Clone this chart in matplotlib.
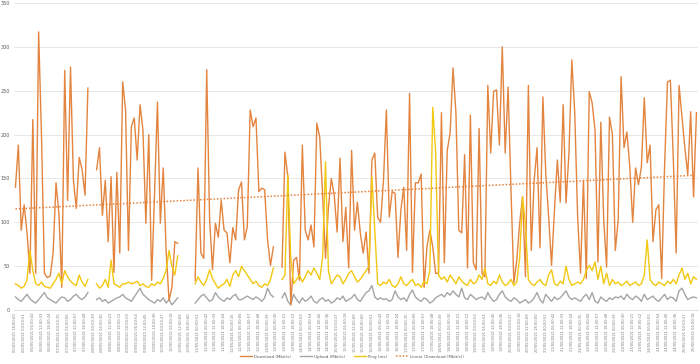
import numpy as np
import pandas as pd
import matplotlib
matplotlib.use("Agg")
import matplotlib.pyplot as plt
from matplotlib.lines import Line2D

nan = np.nan

download = [
    140,188,91,120,88,42,217,42,317,197,42,37,39,65,145,110,26,273,125,277,148,116,174,160,131,253,nan,nan,160,185,108,148,78,152,43,157,65,260,
    228,68,209,219,171,234,205,99,200,34,133,237,99,162,68,11,26,78,76,nan,nan,nan,nan,nan,34,162,65,59,274,103,46,99,83,125,91,88,54,94,80,137,
    146,80,95,228,209,219,135,139,137,80,51,72,nan,nan,49,180,152,6,57,60,34,188,91,80,97,72,213,197,131,59,117,150,131,89,173,78,117,48,182,91,123,88,65,89,42,
    171,179,106,100,148,228,106,135,133,60,114,140,68,247,43,145,145,155,26,72,91,72,42,42,225,54,182,202,276,225,91,88,177,48,222,54,46,207,
    42,38,256,179,249,251,188,300,179,254,137,31,57,99,129,38,256,68,148,185,71,243,156,106,51,114,171,123,234,122,179,285,225,106,42,148,36,249,
    236,205,55,214,103,49,220,200,68,103,266,185,203,163,100,162,143,163,242,168,188,78,114,120,36,163,260,262,174,65,256,220,185,154,226,129,225,
]

ping = [
    30,28,25,27,35,68,45,30,28,32,27,26,25,30,35,42,30,45,38,33,30,28,40,32,27,35,nan,nan,30,25,28,35,26,57,30,28,26,30,
    30,32,30,31,33,28,30,27,26,30,28,32,30,36,45,68,50,40,62,nan,nan,nan,nan,nan,30,38,32,28,35,46,36,30,25,28,30,35,27,40,45,38,
    50,45,40,35,30,33,28,26,30,28,35,48,nan,nan,35,40,154,60,30,35,40,32,38,45,40,48,42,35,60,169,45,30,35,40,38,30,35,42,45,38,32,35,40,45,50,
    152,90,30,28,32,30,35,28,26,30,38,30,28,32,35,28,30,26,33,30,45,231,180,40,35,38,32,40,35,30,38,33,30,28,35,30,32,40,
    35,48,30,28,33,30,40,32,28,30,35,28,32,60,129,97,35,30,28,32,35,30,28,40,46,30,28,33,30,50,35,28,30,32,30,35,45,51,
    45,55,35,50,30,42,28,35,30,32,28,30,33,28,30,32,28,30,40,80,35,30,28,32,30,28,33,30,35,30,40,48,35,42,30,38,35,
]

upload = [
    15,12,10,14,18,13,10,8,12,16,20,14,12,10,8,12,15,14,10,12,16,18,14,12,15,20,nan,nan,12,14,10,12,8,10,12,14,15,18,
    14,12,10,15,20,25,18,15,12,10,8,12,10,14,8,12,6,10,14,nan,nan,nan,nan,nan,8,12,16,18,14,10,12,20,15,12,10,14,12,16,18,12,
    12,14,16,14,12,15,13,10,14,25,18,15,nan,nan,14,20,10,6,18,12,8,14,10,12,16,10,8,12,14,10,12,8,10,14,12,16,10,12,14,18,12,10,15,20,22,
    28,15,12,14,12,13,10,12,22,15,12,14,10,18,23,15,12,10,14,12,8,10,14,16,18,15,20,17,22,18,15,25,14,12,18,15,12,14,
    15,12,20,14,10,12,18,22,15,12,10,14,12,8,10,12,8,10,14,20,12,8,18,14,10,15,12,14,18,22,15,12,14,12,10,15,18,12,
    20,10,8,15,12,10,14,12,15,14,16,12,18,14,12,16,14,10,18,12,14,16,12,10,14,18,12,15,14,10,22,25,18,12,14,15,14,
]

series_names = ["Download (Mbit/s)", "Upload (Mbit/s)", "Ping (ms)", "Linear (Download (Mbit/s))"]
y_ticks = [0, 50, 100, 150, 200, 250, 300, 350]

n = len(download)
times = pd.date_range("2021-05-05 18:00:00", periods=n, freq="2h") + pd.to_timedelta(
    [(i * 37) % 60 for i in range(n)], unit="s")
labels = [t.strftime("%d/%m/%Y %H:%M:%S") for t in times]
label_step = 3

x = np.arange(n)
d = np.array(download, dtype=float)
p = np.array(ping, dtype=float)
u = np.array(upload, dtype=float)

fig = plt.figure(figsize=(7, 3.64), dpi=100)
ax = fig.add_axes([0.02, 0.148, 0.977, 0.844])

c_down = "#E3843F"
c_up = "#A5A5A5"
c_ping = "#F2C811"
lw = 1.0

ax.plot(x, d, color=c_down, lw=lw, zorder=3)
ax.plot(x, u, color=c_up, lw=lw, zorder=2)
ax.plot(x, p, color=c_ping, lw=lw, zorder=4)
mask = ~np.isnan(d)
coef = np.polyfit(x[mask], d[mask], 1)
ax.plot(x, np.polyval(coef, x), color=c_down, lw=1.1, ls=(0, (1, 1.2)), zorder=5)

ax.set_ylim(0, 350)
ax.set_xlim(-0.5, n - 0.5)
ax.set_yticks(y_ticks)
ax.set_yticklabels([str(v) for v in y_ticks], fontsize=3.5, color="#595959")
ax.yaxis.grid(True, color="#E3E3E3", lw=0.6)
ax.set_axisbelow(True)
ax.tick_params(axis="y", length=0, pad=3)
ax.set_xticks(x[::label_step])
ax.set_xticklabels(labels[::label_step], rotation=90, fontsize=2.6, color="#7a7a7a")
ax.tick_params(axis="x", length=0, pad=2)
for s in ["top", "right", "left"]:
    ax.spines[s].set_visible(False)
ax.spines["bottom"].set_color("#D9D9D9")
ax.spines["bottom"].set_linewidth(0.6)

handles = [
    Line2D([], [], color=c_down, lw=lw),
    Line2D([], [], color=c_up, lw=lw),
    Line2D([], [], color=c_ping, lw=lw),
    Line2D([], [], color=c_down, lw=1.1, ls=(0, (1, 1.2))),
]
fig.legend(handles, series_names, loc="center", bbox_to_anchor=(0.503, 0.02), ncol=4,
           frameon=False, fontsize=2.9, handlelength=3.0, handletextpad=0.5,
           columnspacing=2.2, labelcolor="#595959")

fig.savefig("out.png", dpi=100, facecolor="white")
